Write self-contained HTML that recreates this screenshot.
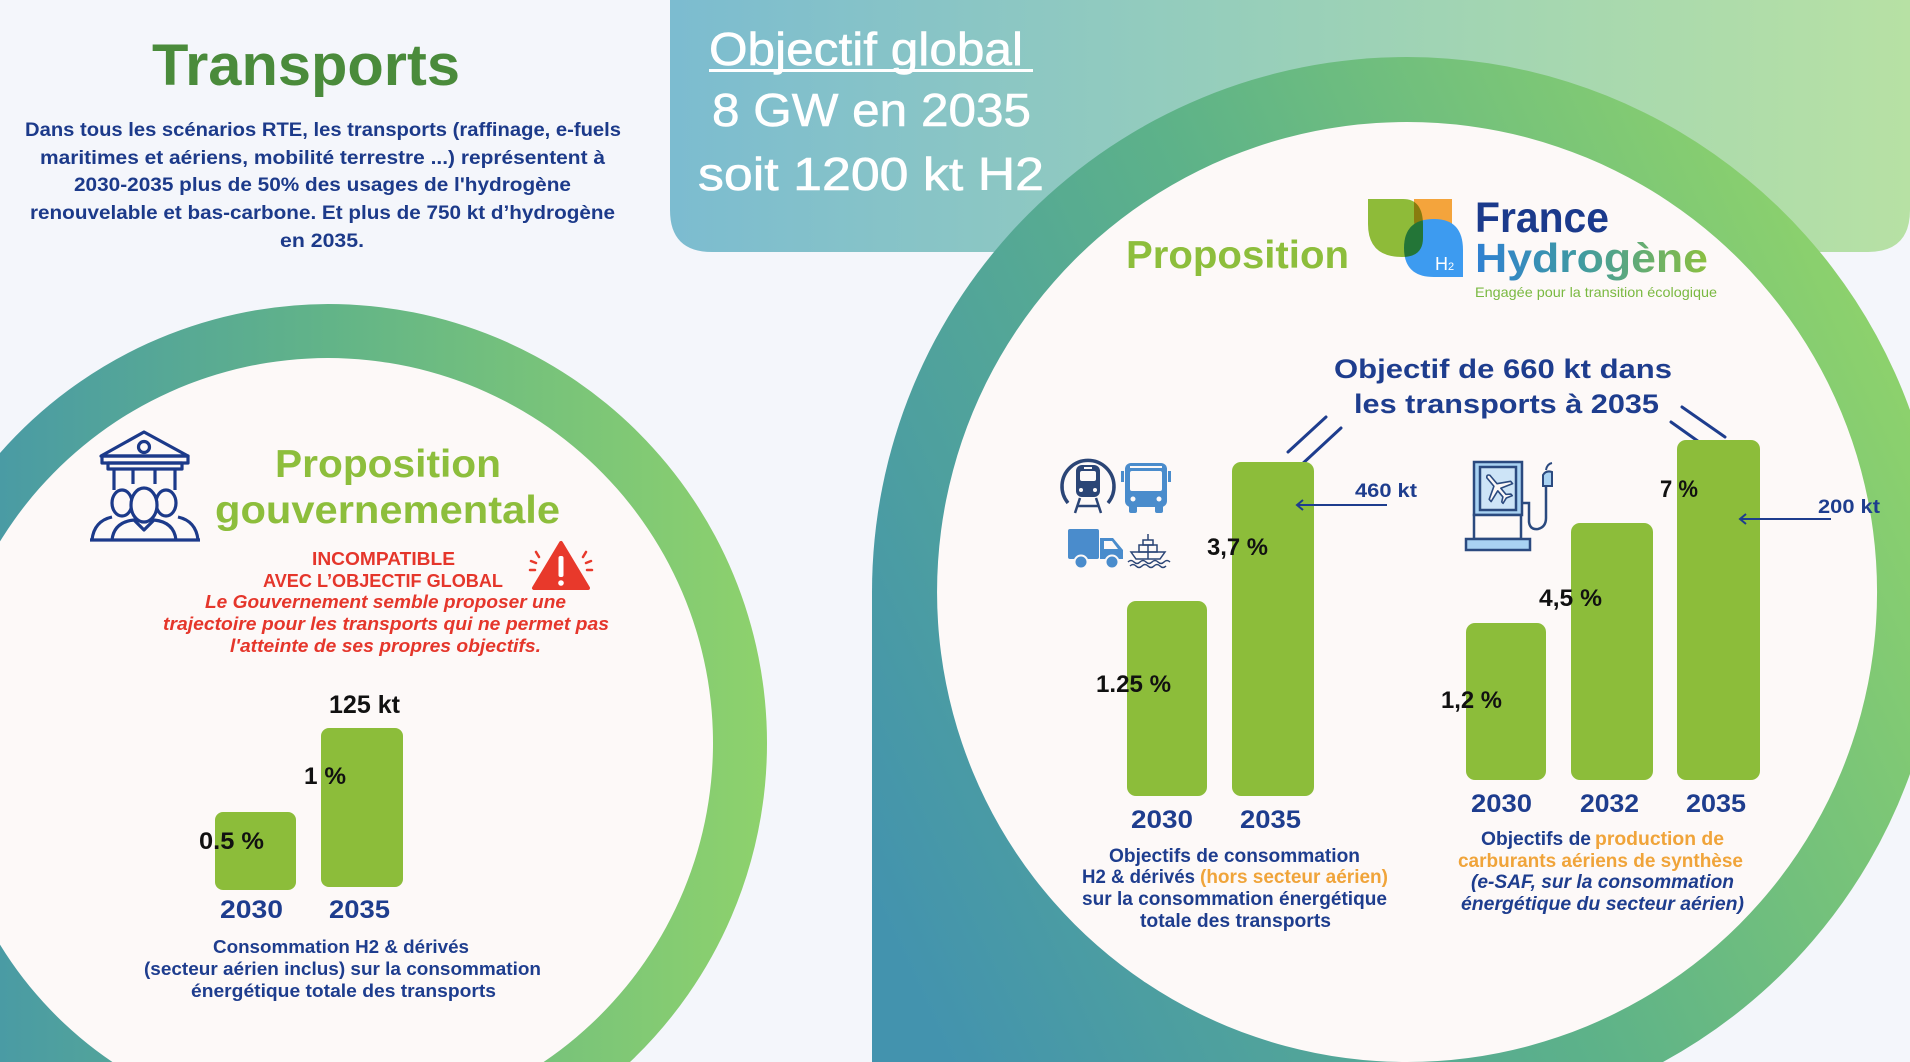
<!DOCTYPE html>
<html><head><meta charset="utf-8"><style>
html,body{margin:0;padding:0;background:#f4f6fb;width:1910px;height:1062px;overflow:hidden;}
svg{display:block;}
text{font-family:"Liberation Sans",Arial,sans-serif;}
</style></head><body>
<svg width="1910" height="1062" viewBox="0 0 1910 1062" xmlns="http://www.w3.org/2000/svg">
<defs>
<linearGradient id="gb" gradientUnits="userSpaceOnUse" x1="670" y1="0" x2="1910" y2="0">
<stop offset="0" stop-color="#7cbcd0"/><stop offset="0.45" stop-color="#96cebb"/><stop offset="1" stop-color="#b7e1a4"/></linearGradient>
<linearGradient id="gl" gradientUnits="userSpaceOnUse" x1="0" y1="0" x2="767" y2="0">
<stop offset="0" stop-color="#4a9ba4"/><stop offset="0.43" stop-color="#62b488"/><stop offset="1" stop-color="#8ed26c"/></linearGradient>
<linearGradient id="gr" gradientUnits="userSpaceOnUse" x1="872" y1="900" x2="1942" y2="400">
<stop offset="0" stop-color="#4393ae"/><stop offset="0.5" stop-color="#5db289"/><stop offset="1" stop-color="#8fd36b"/></linearGradient>
<linearGradient id="gh" gradientUnits="userSpaceOnUse" x1="1475" y1="0" x2="1708" y2="0">
<stop offset="0" stop-color="#2f80d2"/><stop offset="0.45" stop-color="#3f9aa2"/><stop offset="1" stop-color="#8cc040"/></linearGradient>
<clipPath id="frame"><rect x="0" y="0" width="1910" height="1062"/></clipPath>
</defs>
<g clip-path="url(#frame)">
<rect x="0" y="0" width="1910" height="1062" fill="#f4f6fb"/>

<!-- banner -->
<path d="M712,0 H1910 V210 Q1910,252 1868,252 H712 Q670,252 670,210 V0 Z" fill="url(#gb)"/>

<!-- left ring -->
<path d="M328,304 A439,439 0 0 1 767,743 A439,439 0 0 1 630,1062 L0,1062 L0,453 A439,439 0 0 1 328,304 Z" fill="url(#gl)"/>
<path d="M112.4,1062 A385,385 0 1 1 543.6,1062 Z" fill="#fdf9f8"/>

<!-- right ring -->
<path d="M1407,57 A535,535 0 0 1 1910,410 L1910,774 A535,535 0 0 1 1663,1062 L872,1062 L872,592 A535,535 0 0 1 1407,57 Z" fill="url(#gr)"/>
<path d="M1407,1062 A470,470 0 1 1 1407.1,1062 Z" fill="#fdf9f8"/>

<!-- Title left -->
<text x="152" y="85" font-size="58" font-weight="bold" fill="#4a8b3b" textLength="308" lengthAdjust="spacingAndGlyphs">Transports</text>
<g font-size="19" font-weight="bold" fill="#1c3a8a">
<text x="25" y="136" textLength="596" lengthAdjust="spacingAndGlyphs">Dans tous les scénarios RTE, les transports (raffinage, e-fuels</text>
<text x="40" y="164" textLength="565" lengthAdjust="spacingAndGlyphs">maritimes et aériens, mobilité terrestre ...) représentent à</text>
<text x="74" y="191" textLength="497" lengthAdjust="spacingAndGlyphs">2030-2035 plus de 50% des usages de l'hydrogène</text>
<text x="30" y="219" textLength="585" lengthAdjust="spacingAndGlyphs">renouvelable et bas-carbone. Et plus de 750 kt d’hydrogène</text>
<text x="280" y="247" textLength="84" lengthAdjust="spacingAndGlyphs">en 2035.</text>
</g>

<!-- Banner text -->
<g font-size="46" fill="#ffffff" stroke="#ffffff" stroke-width="0.6">
<text x="709" y="65" textLength="314" lengthAdjust="spacingAndGlyphs">Objectif global</text>
<text x="712" y="126" textLength="319" lengthAdjust="spacingAndGlyphs">8 GW en 2035</text>
<text x="698" y="190" textLength="346" lengthAdjust="spacingAndGlyphs">soit 1200 kt H2</text>
</g>
<rect x="709" y="69" width="324" height="3" fill="#ffffff"/>

<!-- Right header -->
<text x="1126" y="268" font-size="39" font-weight="bold" fill="#8dbe3c" textLength="223" lengthAdjust="spacingAndGlyphs">Proposition</text>
<!-- logo -->
<path d="M1414,199 H1452 V237 H1432 Q1414,237 1414,220 Z" fill="#f4a43c"/>
<path d="M1434,219 Q1463,219 1463,250 V277 H1434 Q1404,277 1404,248 Q1404,219 1434,219 Z" fill="#3d9bf0"/>
<path d="M1368,199 H1403 Q1423,199 1423,225 V238 Q1423,257 1402,257 Q1368,257 1368,224 Z" fill="#8fc03a" style="mix-blend-mode:multiply"/>
<text x="1435" y="270" font-size="18" fill="#ffffff">H<tspan font-size="11">2</tspan></text>
<text x="1475" y="232" font-size="43" font-weight="bold" fill="#1b3a8c" textLength="134" lengthAdjust="spacingAndGlyphs">France</text>
<text x="1475" y="272" font-size="41" font-weight="bold" fill="url(#gh)" textLength="233" lengthAdjust="spacingAndGlyphs">Hydrogène</text>
<text x="1475" y="297" font-size="14" fill="#7ab941" textLength="242" lengthAdjust="spacingAndGlyphs">Engagée pour la transition écologique</text>

<!-- Right title -->
<g font-size="27" font-weight="bold" fill="#1e3d8e">
<text x="1334" y="378" textLength="338" lengthAdjust="spacingAndGlyphs">Objectif de 660 kt dans</text>
<text x="1354" y="413" textLength="305" lengthAdjust="spacingAndGlyphs">les transports à 2035</text>
</g>
<g stroke="#1e3d8e" stroke-width="3" stroke-linecap="round">
<line x1="1326" y1="417" x2="1288" y2="452"/>
<line x1="1341" y1="428" x2="1300" y2="466"/>
<line x1="1682" y1="407" x2="1725" y2="437"/>
<line x1="1671" y1="422" x2="1716" y2="454"/>
</g>

<!-- transport icons -->
<path d="M1068,503 A26,26 0 1 1 1108,503" stroke="#2b4576" stroke-width="3.5" fill="none"/>
<rect x="1076" y="465" width="24" height="32" rx="6" fill="#2b4576"/>
<rect x="1080" y="471" width="16" height="10" rx="2" fill="#fdf9f8"/>
<rect x="1084" y="467" width="8" height="2" fill="#fdf9f8"/>
<circle cx="1081" cy="490" r="2" fill="#fdf9f8"/><circle cx="1095" cy="490" r="2" fill="#fdf9f8"/>
<g stroke="#2b4576" stroke-width="2.5"><line x1="1080" y1="498" x2="1075" y2="513"/><line x1="1096" y1="498" x2="1101" y2="513"/><line x1="1078" y1="506" x2="1098" y2="506"/></g>

<rect x="1125" y="463" width="42" height="44" rx="6" fill="#4a8ccc"/>
<rect x="1121" y="471" width="3" height="11" fill="#4a8ccc"/><rect x="1168" y="471" width="3" height="11" fill="#4a8ccc"/>
<rect x="1130" y="466" width="32" height="2" fill="#fdf9f8"/>
<rect x="1130" y="471" width="32" height="20" rx="2" fill="#fdf9f8"/>
<circle cx="1133" cy="499" r="2.5" fill="#fdf9f8"/><circle cx="1159" cy="499" r="2.5" fill="#fdf9f8"/>
<rect x="1129" y="505" width="8" height="8" rx="2" fill="#4a8ccc"/><rect x="1155" y="505" width="8" height="8" rx="2" fill="#4a8ccc"/>

<rect x="1068" y="529" width="31" height="30" rx="2" fill="#4a8ccc"/>
<path d="M1100,538 H1113 L1123,550 V559 H1100 Z" fill="#4a8ccc"/>
<path d="M1104,541 H1112 L1118,549 H1104 Z" fill="#fdf9f8"/>
<circle cx="1081" cy="562" r="6.5" fill="#4a8ccc" stroke="#fdf9f8" stroke-width="2"/>
<circle cx="1112" cy="562" r="6.5" fill="#4a8ccc" stroke="#fdf9f8" stroke-width="2"/>

<g stroke="#2b4576" stroke-width="1.5" fill="none">
<path d="M1131,552 L1165,552 L1160,559 L1136,559 Z"/>
<rect x="1139" y="545" width="18" height="7"/>
<rect x="1143" y="540" width="10" height="5"/>
<line x1="1148" y1="534" x2="1148" y2="540"/>
<line x1="1148" y1="545" x2="1148" y2="559"/>
<path d="M1128,562 q3,-3 6,0 t6,0 t6,0 t6,0 t6,0 t6,0 t6,0"/>
<path d="M1130,566 q3,-3 6,0 t6,0 t6,0 t6,0 t6,0 t6,0"/>
</g>

<!-- middle chart -->
<g fill="#8cbd3a">
<rect x="1127" y="601" width="80" height="195" rx="9"/>
<rect x="1232" y="462" width="82" height="334" rx="9"/>
</g>
<g font-size="24" font-weight="bold" fill="#111111">
<text x="1096" y="692" textLength="75" lengthAdjust="spacingAndGlyphs">1.25 %</text>
<text x="1207" y="555" textLength="61" lengthAdjust="spacingAndGlyphs">3,7 %</text>
</g>
<text x="1355" y="497" font-size="19" font-weight="bold" fill="#1e3d8e" textLength="62" lengthAdjust="spacingAndGlyphs">460 kt</text>
<g stroke="#1e3d8e" stroke-width="2" fill="none"><line x1="1387" y1="505" x2="1297" y2="505"/><path d="M1303,500 L1297,505 L1303,510"/></g>
<g font-size="25" font-weight="bold" fill="#1e3d8e">
<text x="1131" y="828" textLength="62" lengthAdjust="spacingAndGlyphs">2030</text>
<text x="1240" y="828" textLength="61" lengthAdjust="spacingAndGlyphs">2035</text>
</g>
<g font-size="19" font-weight="bold" fill="#1e3d8e">
<text x="1109" y="862" textLength="251" lengthAdjust="spacingAndGlyphs">Objectifs de consommation</text>
<text x="1082" y="883" textLength="113" lengthAdjust="spacingAndGlyphs">H2 &amp; dérivés</text>
<text x="1200" y="883" fill="#f0a43a" textLength="188" lengthAdjust="spacingAndGlyphs">(hors secteur aérien)</text>
<text x="1082" y="905" textLength="305" lengthAdjust="spacingAndGlyphs">sur la consommation énergétique</text>
<text x="1140" y="927" textLength="191" lengthAdjust="spacingAndGlyphs">totale des transports</text>
</g>

<!-- fuel icon -->
<g stroke="#2b4a7f" stroke-width="2.5">
<rect x="1474" y="462" width="48" height="53" fill="#a9d2f2"/>
<rect x="1480" y="467" width="36" height="43" fill="#cde4f7"/>
<rect x="1474" y="515" width="47" height="24" fill="#fdf9f8"/>
<rect x="1466" y="539" width="64" height="11" fill="#a9d2f2"/>
<path d="M1521,503 H1529 V522 Q1530,530 1538,529 Q1546,527 1546,518 V484" fill="none"/>
<path d="M1546,470 Q1547,464 1552,463" fill="none" stroke-width="2"/>
<path d="M1543,486 V475 Q1546,470 1552,472 V486 Z" fill="#a9d2f2" stroke-width="2"/>
</g>
<g transform="translate(1498,488) rotate(-40)" fill="#fdf9f8" stroke="#2b4a7f" stroke-width="1.6" stroke-linejoin="round">
<path d="M-2,-15 Q0,-18 2,-15 L2,-4 L14,3 L14,6 L2,2 L2,10 L6,13 L6,15 L0,13 L-6,15 L-6,13 L-2,10 L-2,2 L-14,6 L-14,3 L-2,-4 Z"/>
</g>

<!-- right chart -->
<g fill="#8cbd3a">
<rect x="1466" y="623" width="80" height="157" rx="9"/>
<rect x="1571" y="523" width="82" height="257" rx="9"/>
<rect x="1677" y="440" width="83" height="340" rx="9"/>
</g>
<g font-size="24" font-weight="bold" fill="#111111">
<text x="1441" y="708" textLength="61" lengthAdjust="spacingAndGlyphs">1,2 %</text>
<text x="1539" y="606" textLength="63" lengthAdjust="spacingAndGlyphs">4,5 %</text>
<text x="1660" y="497" textLength="38" lengthAdjust="spacingAndGlyphs">7 %</text>
</g>
<text x="1818" y="513" font-size="19" font-weight="bold" fill="#1e3d8e" textLength="62" lengthAdjust="spacingAndGlyphs">200 kt</text>
<g stroke="#1e3d8e" stroke-width="2" fill="none"><line x1="1831" y1="519" x2="1740" y2="519"/><path d="M1746,514 L1740,519 L1746,524"/></g>
<g font-size="25" font-weight="bold" fill="#1e3d8e">
<text x="1471" y="812" textLength="61" lengthAdjust="spacingAndGlyphs">2030</text>
<text x="1580" y="812" textLength="59" lengthAdjust="spacingAndGlyphs">2032</text>
<text x="1686" y="812" textLength="60" lengthAdjust="spacingAndGlyphs">2035</text>
</g>
<g font-size="19" font-weight="bold" fill="#1e3d8e">
<text x="1481" y="845" textLength="110" lengthAdjust="spacingAndGlyphs">Objectifs de</text>
<text x="1595" y="845" fill="#f0a43a" textLength="129" lengthAdjust="spacingAndGlyphs">production de</text>
<text x="1458" y="867" fill="#f0a43a" textLength="285" lengthAdjust="spacingAndGlyphs">carburants aériens de synthèse</text>
<text x="1471" y="888" font-style="italic" textLength="263" lengthAdjust="spacingAndGlyphs">(e-SAF, sur la consommation</text>
<text x="1461" y="910" font-style="italic" textLength="283" lengthAdjust="spacingAndGlyphs">énergétique du secteur aérien)</text>
</g>

<!-- Left section: government icon -->
<g stroke="#1c3a8a" stroke-width="3.2" fill="none" stroke-linejoin="round">
<path d="M101,456 L144,432 L188,456 Z"/>
<circle cx="144" cy="447" r="5.5"/>
<rect x="102" y="456" width="86" height="7"/>
<rect x="108" y="463" width="74" height="6"/>
<line x1="114" y1="469" x2="114" y2="490"/><line x1="133" y1="469" x2="133" y2="484"/>
<line x1="155" y1="469" x2="155" y2="484"/><line x1="175" y1="469" x2="175" y2="490"/>
<ellipse cx="122" cy="503" rx="10" ry="13" fill="#fdf9f8"/>
<ellipse cx="166" cy="503" rx="10" ry="13" fill="#fdf9f8"/>
<path d="M92,540 Q94,521 112,517"/>
<path d="M198,540 Q196,521 178,517"/>
<ellipse cx="144" cy="505" rx="13" ry="17" fill="#fdf9f8"/>
<path d="M112,540 Q114,522 134,520 L144,530 L154,520 Q174,522 176,540"/>
<line x1="90" y1="540" x2="200" y2="540"/>
</g>
<text x="275" y="477" font-size="39" font-weight="bold" fill="#8dbe3c" textLength="226" lengthAdjust="spacingAndGlyphs">Proposition</text>
<text x="215" y="523" font-size="39" font-weight="bold" fill="#8dbe3c" textLength="345" lengthAdjust="spacingAndGlyphs">gouvernementale</text>
<g font-size="18" font-weight="bold" fill="#e5362b">
<text x="312" y="565" textLength="143" lengthAdjust="spacingAndGlyphs">INCOMPATIBLE</text>
<text x="263" y="587" textLength="240" lengthAdjust="spacingAndGlyphs">AVEC L’OBJECTIF GLOBAL</text>
<g font-style="italic">
<text x="205" y="608" textLength="361" lengthAdjust="spacingAndGlyphs">Le Gouvernement semble proposer une</text>
<text x="163" y="630" textLength="446" lengthAdjust="spacingAndGlyphs">trajectoire pour les transports qui ne permet pas</text>
<text x="230" y="652" textLength="311" lengthAdjust="spacingAndGlyphs">l'atteinte de ses propres objectifs.</text>
</g>
</g>
<path d="M561,543 L534,588 L588,588 Z" fill="#e8392b" stroke="#e8392b" stroke-width="4" stroke-linejoin="round"/>
<rect x="558.5" y="556" width="5" height="21" rx="2" fill="#ffffff"/>
<circle cx="561" cy="583" r="2.8" fill="#ffffff"/>
<g stroke="#e8392b" stroke-width="2.5" stroke-linecap="round">
<line x1="536" y1="552" x2="539" y2="557"/><line x1="531" y1="561" x2="536" y2="563"/><line x1="530" y1="570" x2="535" y2="570"/>
<line x1="586" y1="552" x2="583" y2="557"/><line x1="591" y1="561" x2="586" y2="563"/><line x1="592" y1="570" x2="587" y2="570"/>
</g>

<text x="329" y="713" font-size="25" font-weight="bold" fill="#111111" textLength="71" lengthAdjust="spacingAndGlyphs">125 kt</text>
<g fill="#8cbd3a">
<rect x="215" y="812" width="81" height="78" rx="8"/>
<rect x="321" y="728" width="82" height="159" rx="8"/>
</g>
<g font-size="24" font-weight="bold" fill="#111111">
<text x="304" y="784" textLength="42" lengthAdjust="spacingAndGlyphs">1 %</text>
<text x="199" y="849" textLength="65" lengthAdjust="spacingAndGlyphs">0.5 %</text>
</g>
<g font-size="25" font-weight="bold" fill="#1e3d8e">
<text x="220" y="918" textLength="63" lengthAdjust="spacingAndGlyphs">2030</text>
<text x="329" y="918" textLength="61" lengthAdjust="spacingAndGlyphs">2035</text>
</g>
<g font-size="18" font-weight="bold" fill="#1e3d8e">
<text x="213" y="953" textLength="256" lengthAdjust="spacingAndGlyphs">Consommation H2 &amp; dérivés</text>
<text x="144" y="975" textLength="397" lengthAdjust="spacingAndGlyphs">(secteur aérien inclus) sur la consommation</text>
<text x="191" y="997" textLength="305" lengthAdjust="spacingAndGlyphs">énergétique totale des transports</text>
</g>
</g>
</svg>
</body></html>
